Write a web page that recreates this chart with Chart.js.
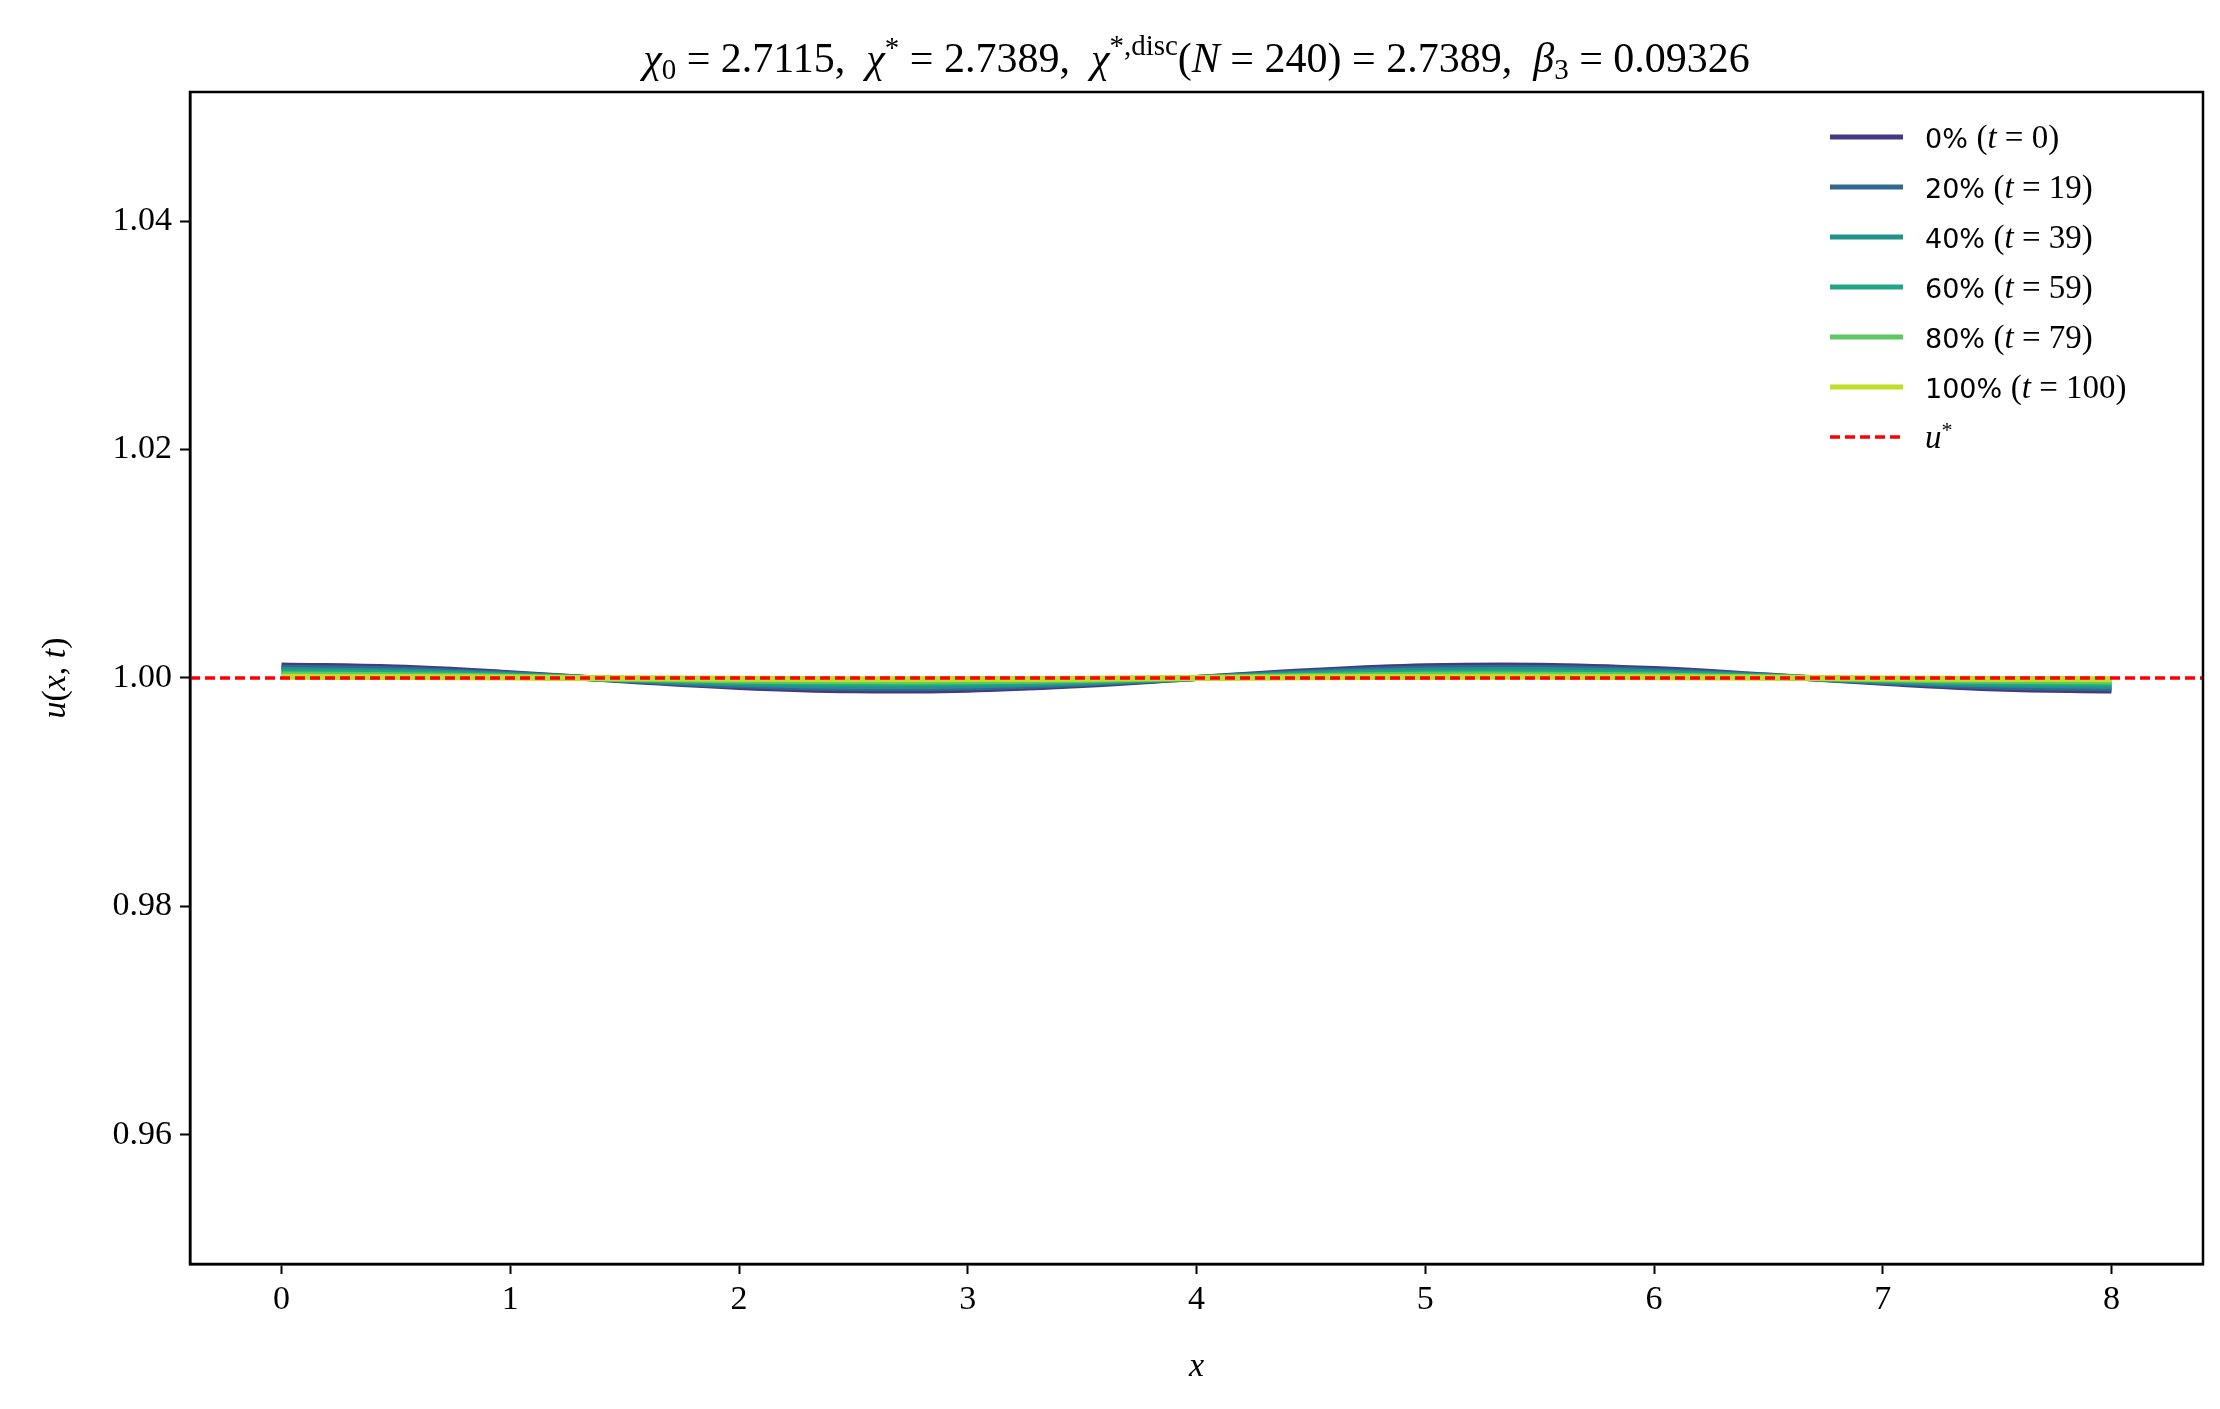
<!DOCTYPE html>
<html><head><meta charset="utf-8">
<script src="https://cdn.jsdelivr.net/npm/chart.js@4"></script>
<style>html,body{margin:0;padding:0;background:#fff}#w{width:2220px;height:1409px}</style>
</head><body><div id="w"><canvas id="c"></canvas></div>
<script>
const xs = [0,0.5,1,1.5,2,2.5,3,3.5,4,4.5,5,5.5,6,6.5,7,7.5,8];
const s0   = [1.00110,1.00091,1.00042,0.99979,0.99922,0.99892,0.99898,0.99939,1.00000,1.00061,1.00102,1.00108,1.00078,1.00021,0.99958,0.99909,0.99890];
const s20  = [1.00090,1.00075,1.00034,0.99982,0.99936,0.99912,0.99917,0.99950,1.00000,1.00050,1.00083,1.00088,1.00064,1.00018,0.99966,0.99925,0.99910];
const s40  = [1.00070,1.00058,1.00027,0.99986,0.99951,0.99931,0.99935,0.99961,1.00000,1.00039,1.00065,1.00069,1.00049,1.00014,0.99973,0.99942,0.99930];
const s60  = [1.00050,1.00042,1.00019,0.99990,0.99965,0.99951,0.99954,0.99972,1.00000,1.00028,1.00046,1.00049,1.00035,1.00010,0.99981,0.99958,0.99950];
const s80  = [1.00030,1.00025,1.00011,0.99994,0.99979,0.99971,0.99972,0.99983,1.00000,1.00017,1.00028,1.00029,1.00021,1.00006,0.99989,0.99975,0.99970];
const s100 = [1.00010,1.00008,1.00004,0.99998,0.99993,0.99990,0.99991,0.99994,1.00000,1.00006,1.00009,1.00010,1.00007,1.00002,0.99996,0.99992,0.99990];
const seriesNames = ["0%","20%","40%","60%","80%","100%"];
const seriesT = ["0","19","39","59","79","100"];
const seriesColors = ["#443983","#31688e","#21918c","#21a685","#5ec962","#bddf26"];
const uStar = 1.0;
const yTicks = [0.96,0.98,1.00,1.02,1.04];
const xTicks = [0,1,2,3,4,5,6,7,8];

const allSeries = [s0,s20,s40,s60,s80,s100];
const datasets = allSeries.map((s,i)=>({
  label: seriesNames[i], tval: seriesT[i], order: 10-i,
  data: xs.map((x,j)=>({x:x,y:s[j]})),
  borderColor: seriesColors[i], borderWidth: 6, pointRadius: 0, tension: 0.4, fill:false
}));
datasets.push({label:'u*', order:0, data:[{x:-0.4,y:uStar},{x:8.4,y:uStar}], borderColor:'#ff0000',
  borderWidth:3.5, borderDash:[10,5], pointRadius:0, fill:false});

const SERIF = '"Liberation Serif","DejaVu Serif",serif';
function seg(ctx, x, y, parts){
  for(const p of parts){
    const sz = p.s||42; const dy = p.dy||0;
    ctx.font = (p.i?'italic ':'') + sz+'px ' + (p.f||SERIF);
    ctx.fillText(p.t, x, y+dy);
    x += ctx.measureText(p.t).width;
  }
  return x;
}
function width(ctx, parts){
  let w=0; for(const p of parts){ctx.font=(p.i?'italic ':'')+(p.s||42)+'px '+(p.f||SERIF); w+=ctx.measureText(p.t).width;} return w;
}
const frame = {id:'frame',afterDatasetsDraw(c){const a=c.chartArea,x=c.ctx;x.save();x.strokeStyle='#000';x.lineWidth=2.5;x.strokeRect(a.left,a.top,a.right-a.left,a.bottom-a.top);x.restore();}};
const overlay = {
  id:'overlay',
  afterDraw(chart){
    const ctx = chart.ctx; const ca = chart.chartArea;
    ctx.save(); ctx.fillStyle='#000'; ctx.textBaseline='alphabetic';
    const title = [
      {t:'χ',i:1},{t:'0',s:29,dy:7},{t:' = 2.7115,  '},
      {t:'χ',i:1},{t:'*',s:29,dy:-15},{t:' = 2.7389,  '},
      {t:'χ',i:1},{t:'*,disc',s:29,dy:-17},{t:'('},{t:'N',i:1},{t:' = 240) = 2.7389,  '},
      {t:'β',i:1},{t:'3',s:29,dy:7},{t:' = 0.09326'}
    ];
    const tw = width(ctx,title);
    seg(ctx, (ca.left+ca.right)/2 - tw/2, 72, title);
    const SANS='"DejaVu Sans",sans-serif';
    chart.data.datasets.forEach((d,i)=>{
      const y = 137 + i*50;
      ctx.strokeStyle = d.borderColor; ctx.lineWidth = i<6?5:3.5;
      ctx.setLineDash(i<6?[]:[10,5]);
      ctx.beginPath(); ctx.moveTo(1830,y); ctx.lineTo(1903,y); ctx.stroke();
      ctx.setLineDash([]);
      const parts = i<6 ? [{t:d.label+' ',f:SANS,s:27},{t:'(',s:33},{t:'t',i:1,s:33},{t:' = '+d.tval+')',s:33}]
                        : [{t:'u',i:1,s:33},{t:'*',s:22,dy:-11}];
      seg(ctx,1925,y+11,parts);
    });
    ctx.translate(55,(ca.top+ca.bottom)/2); ctx.rotate(-Math.PI/2);
    const yl=[{t:'u',i:1,s:34},{t:'(',s:34},{t:'x',i:1,s:34},{t:', ',s:34},{t:'t',i:1,s:34},{t:')',s:34}];
    seg(ctx,-width(ctx,yl)/2,10,yl);
    ctx.restore();
    ctx.save(); ctx.fillStyle='#000';
    const xl=[{t:'x',i:1,s:34}];
    seg(ctx,(chart.scales.x.getPixelForValue(4))-width(ctx,xl)/2,1376,xl);
    ctx.restore();
  }
};
new Chart(document.getElementById('c'),{
  type:'line',
  data:{datasets},
  plugins:[frame,overlay],
  options:{
    responsive:true, maintainAspectRatio:false, animation:false,
    layout:{padding:{top:92,right:17,left:0,bottom:0}},
    plugins:{legend:{display:false},tooltip:{enabled:false}},
    scales:{
      x:{type:'linear',min:-0.4,max:8.4,
        afterBuildTicks(s){s.ticks=xTicks.map(v=>({value:v}));},
        afterFit(s){s.height=145;},
        grid:{drawOnChartArea:false,tickLength:10,tickColor:'#000',tickWidth:2},
        border:{color:'#000',width:2.5},
        ticks:{color:'#000',font:{family:SERIF,size:34},padding:6,callback:v=>String(v)}},
      y:{min:0.9487,max:1.0513,
        afterBuildTicks(s){s.ticks=yTicks.map(v=>({value:v}));},
        afterFit(s){s.width=190;},
        grid:{drawOnChartArea:false,tickLength:10,tickColor:'#000',tickWidth:2},
        border:{color:'#000',width:2.5},
        ticks:{color:'#000',font:{family:SERIF,size:34},padding:8,callback:v=>v.toFixed(2)}}
    }
  },
});
</script></body></html>
